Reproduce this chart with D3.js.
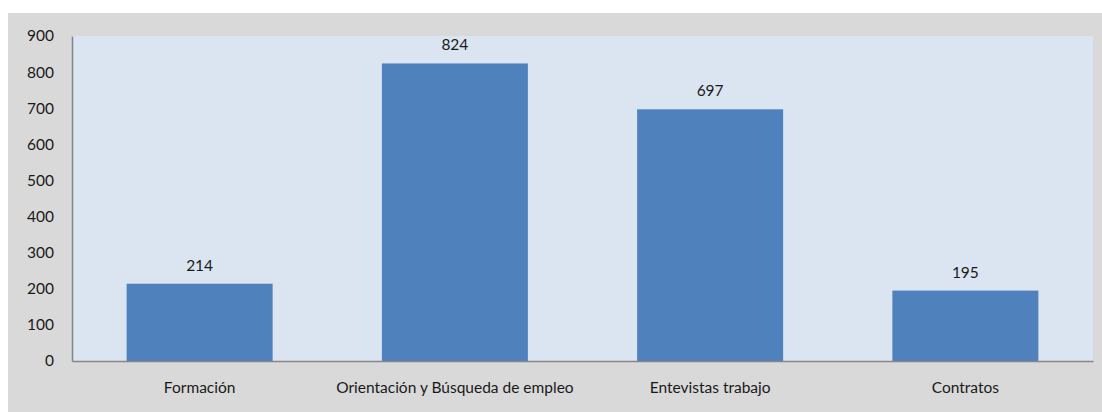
<!DOCTYPE html>
<html><head><meta charset="utf-8">
<script src="https://cdn.jsdelivr.net/npm/d3@7"></script>
<style>body{margin:0;background:#fff;} svg{display:block;}</style>
</head><body>
<svg id="c" width="1102" height="412"></svg>
<script>
const categories = ["Formación", "Orientación y Búsqueda de empleo", "Entevistas trabajo", "Contratos"];
const values = [214, 824, 697, 195];
const yTicks = [0, 100, 200, 300, 400, 500, 600, 700, 800, 900];

const svg = d3.select("#c");
const font = "Lato, 'Open Sans', sans-serif";
const fs = 15.5;
svg.append("rect").attr("x", 8).attr("y", 13).attr("width", 1094).attr("height", 399).attr("fill", "#d9d9d9");

const m = {left: 72, right: 1093, top: 36, bottom: 361};
const x = d3.scaleBand().domain(categories).range([m.left, m.right]).paddingInner(0.428).paddingOuter(0.214);
const y = d3.scaleLinear().domain([0, 900]).range([m.bottom, m.top]);

svg.append("rect").attr("x", m.left).attr("y", m.top).attr("width", m.right - m.left).attr("height", m.bottom - m.top).attr("fill", "#dbe5f1");

svg.selectAll("rect.bar").data(values).enter().append("rect").attr("class", "bar")
  .attr("x", (d, i) => x(categories[i])).attr("width", x.bandwidth())
  .attr("y", d => y(d)).attr("height", d => y(0) - y(d)).attr("fill", "#4f81bd");

svg.selectAll("text.val").data(values).enter().append("text").attr("class", "val")
  .attr("x", (d, i) => x(categories[i]) + x.bandwidth() / 2).attr("y", d => y(d) - 13)
  .attr("text-anchor", "middle").attr("font-family", font).attr("font-size", fs).attr("fill", "#1a1a1a").text(d => d);

const yAxis = svg.append("g").attr("transform", `translate(${m.left},0)`)
  .call(d3.axisLeft(y).tickValues(yTicks).tickSize(0).tickPadding(18));
yAxis.select(".domain").attr("stroke", "#868686").attr("stroke-width", 1.5);
yAxis.selectAll("text").attr("font-family", font).attr("font-size", fs).attr("fill", "#1a1a1a");

const xAxis = svg.append("g").attr("transform", `translate(0,${m.bottom})`)
  .call(d3.axisBottom(x).tickSize(0).tickPadding(21));
xAxis.select(".domain").attr("stroke", "#868686").attr("stroke-width", 1.5);
xAxis.selectAll("text").attr("font-family", font).attr("font-size", fs).attr("fill", "#1a1a1a");
</script>
</body></html>
